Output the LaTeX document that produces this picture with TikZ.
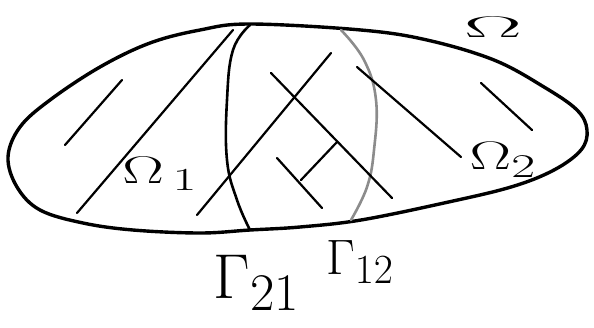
\documentclass[tikz,border=0pt]{standalone}
\usetikzlibrary{calc}
\begin{document}
\begin{tikzpicture}[x=1pt,y=-1pt,
    boundary/.style={line width=3.4pt, line join=round},
    iface/.style={line width=2.6pt, line cap=round},
    hatch/.style={line width=2.2pt, line cap=round},
    lbl/.style={inner sep=0pt, font=\Huge, transform shape},
  ]
  \useasboundingbox (0,0) rectangle (594,327);
  % outer domain
  \draw[boundary] plot[smooth cycle, tension=0.6] coordinates {
    (250,24) (361,30) (427,40) (494,60) (544,87) (577,110) (587,130)
    (581,150) (554,170) (511,187) (444,203) (361,220) (300,227) (250,230)
    (200,233) (133,230) (83,223) (40,210) (17,187) (8,157) (20,127)
    (50,100) (100,67) (150,43) (200,30)};
  % interfaces
  \draw[iface] plot[smooth, tension=0.7] coordinates {
    (250,25) (233,50) (227,100) (227,160) (237,200) (250,230)};
  \draw[iface, black!45] plot[smooth, tension=0.7] coordinates {
    (341,30) (364,60) (376,100) (374,150) (367,187) (351,220)};
  % hatching
  \draw[hatch] (65,145) -- (122,80);
  \draw[hatch] (77,213) -- (233,30);
  \draw[hatch] (197,215) -- (331,53);
  \draw[hatch] (271,73) -- (392,198);
  \draw[hatch] (277,158) -- (322,208);
  \draw[hatch] (301,180) -- (337,142);
  \draw[hatch] (357,67) -- (461,157);
  \draw[hatch] (481,83) -- (532,130);
  % labels
  \node[lbl, xscale=3.5, yscale=1.2] (om) at (493,27) {$\Omega$};
  \node[lbl, xscale=2.5, yscale=1.55] (om1) at (160,174) {$\Omega_{\,1}$};
  \node[lbl, xscale=2.5, yscale=1.6] (om2) at (503,160) {$\Omega_2$};
  \node[lbl, scale=2.55] (g21) at (257,283) {$\Gamma_{21}$};
  \node[lbl, scale=2.0] (g12) at (360,262) {$\Gamma_{12}$};
\end{tikzpicture}
\end{document}
